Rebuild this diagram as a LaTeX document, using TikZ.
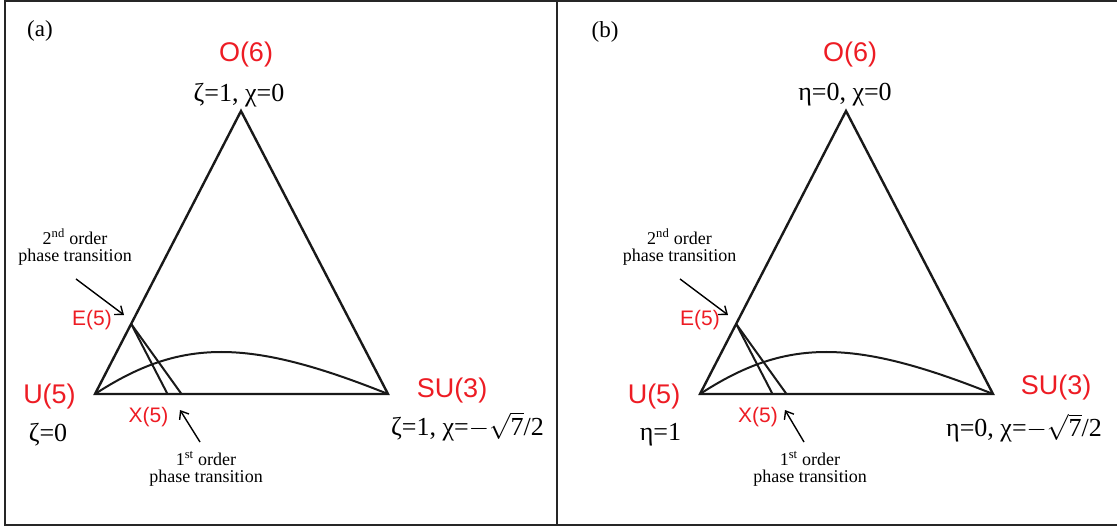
\RequirePackage{fix-cm}
\documentclass[tikz,border=0pt]{standalone}
\usepackage{fontspec}
\setmainfont{Liberation Serif}
\newfontfamily\sansf{Liberation Sans}
\usetikzlibrary{arrows.meta}
\definecolor{lblred}{RGB}{237,28,36}
\tikzset{
  edge/.style={line width=2.4pt, line join=miter, black!90},
  thin edge/.style={line width=2pt, black!90},
  frame/.style={line width=2pt, black!85},
  pointer/.style={line width=1.4pt, -{Straight Barb[length=7pt,width=11pt,line width=1.4pt]}},
  biglbl/.style={text=lblred, font=\sansf\fontsize{27}{30}\selectfont, inner sep=0pt},
  smalllbl/.style={text=lblred, font=\sansf\fontsize{21}{24}\selectfont, inner sep=0pt},
  param/.style={font=\fontsize{26}{30}\selectfont, inner sep=0pt},
  note/.style={font=\fontsize{18}{20}\selectfont, inner sep=0pt, align=center},
  tag/.style={font=\fontsize{23}{26}\selectfont, inner sep=0pt}
}
\begin{document}
\begin{tikzpicture}[x=1pt,y=-1pt]
\useasboundingbox (0,0) rectangle (1117,529);
% frame
\draw[frame] (5,1) rectangle (1119,525);
\draw[frame] (557,1) -- (557,525);

% ---------- panel (a) ----------
\coordinate (aO) at (241,111);
\coordinate (aU) at (95,394);
\coordinate (aS) at (388,394);
\coordinate (aE) at (131.2,324);
\coordinate (aX1) at (167.5,394);
\coordinate (aX2) at (181.5,394);
\draw[edge] (aU) -- (aO) -- (aS) -- cycle;
\draw[thin edge] (aU) .. controls (181,338) and (248,338) .. (aS);
\draw[thin edge] (aE) -- (aX1);
\draw[thin edge] (aE) -- (aX2);

\node[tag] (atag) at (40,31) {(a)};
\node[biglbl] (aOl) at (246,55) {O(6)};
\node[param] (aOp) at (239,95) {ζ=1, χ=0};
\node[smalllbl] (aEl) at (92,320) {E(5)};
\node[biglbl] (aUl) at (49.5,397) {U(5)};
\node[param] (aUp) at (48,435) {ζ=0};
\node[smalllbl] (aXl) at (148.5,417) {X(5)};
\node[biglbl] (aSl) at (452,391) {SU(3)};
\node[param, anchor=west] (aSp) at (391,429) {ζ=1, χ=$\smash{-\sqrt{\mbox{7}}}$/2};
\node[note] (an2) at (75,247) {2\textsuperscript{nd} order\\[-3pt]phase transition};
\node[note] (an1) at (206,469) {1\textsuperscript{st} order\\[-3pt]phase transition};
\coordinate (aa2s) at (76,279);
\coordinate (aa2e) at (124,315);
\coordinate (aa1s) at (200,442);
\coordinate (aa1e) at (180,410);
\draw[pointer] (aa2s) -- (aa2e);
\draw[pointer] (aa1s) -- (aa1e);

% ---------- panel (b) ----------
\coordinate (bO) at (846,111);
\coordinate (bU) at (700,394);
\coordinate (bS) at (993,394);
\coordinate (bE) at (736.2,324);
\coordinate (bX1) at (772.5,394);
\coordinate (bX2) at (786.5,394);
\draw[edge] (bU) -- (bO) -- (bS) -- cycle;
\draw[thin edge] (bU) .. controls (786,338) and (853,338) .. (bS);
\draw[thin edge] (bE) -- (bX1);
\draw[thin edge] (bE) -- (bX2);

\node[tag] (btag) at (605,32) {(b)};
\node[biglbl] (bOl) at (850,55) {O(6)};
\node[param] (bOp) at (845,95) {η=0, χ=0};
\node[smalllbl] (bEl) at (700,320) {E(5)};
\node[biglbl] (bUl) at (654,397) {U(5)};
\node[param] (bUp) at (660.5,435) {η=1};
\node[smalllbl] (bXl) at (758,417) {X(5)};
\node[biglbl] (bSl) at (1056,388) {SU(3)};
\node[param, anchor=west] (bSp) at (946,431) {η=0, χ=$\smash{-\sqrt{\mbox{7}}}$/2};
\node[note] (bn2) at (679.5,247) {2\textsuperscript{nd} order\\[-3pt]phase transition};
\node[note] (bn1) at (810,469) {1\textsuperscript{st} order\\[-3pt]phase transition};
\coordinate (ba2s) at (680,279);
\coordinate (ba2e) at (728,315);
\coordinate (ba1s) at (804,442);
\coordinate (ba1e) at (785,410);
\draw[pointer] (ba2s) -- (ba2e);
\draw[pointer] (ba1s) -- (ba1e);
\end{tikzpicture}
\end{document}
